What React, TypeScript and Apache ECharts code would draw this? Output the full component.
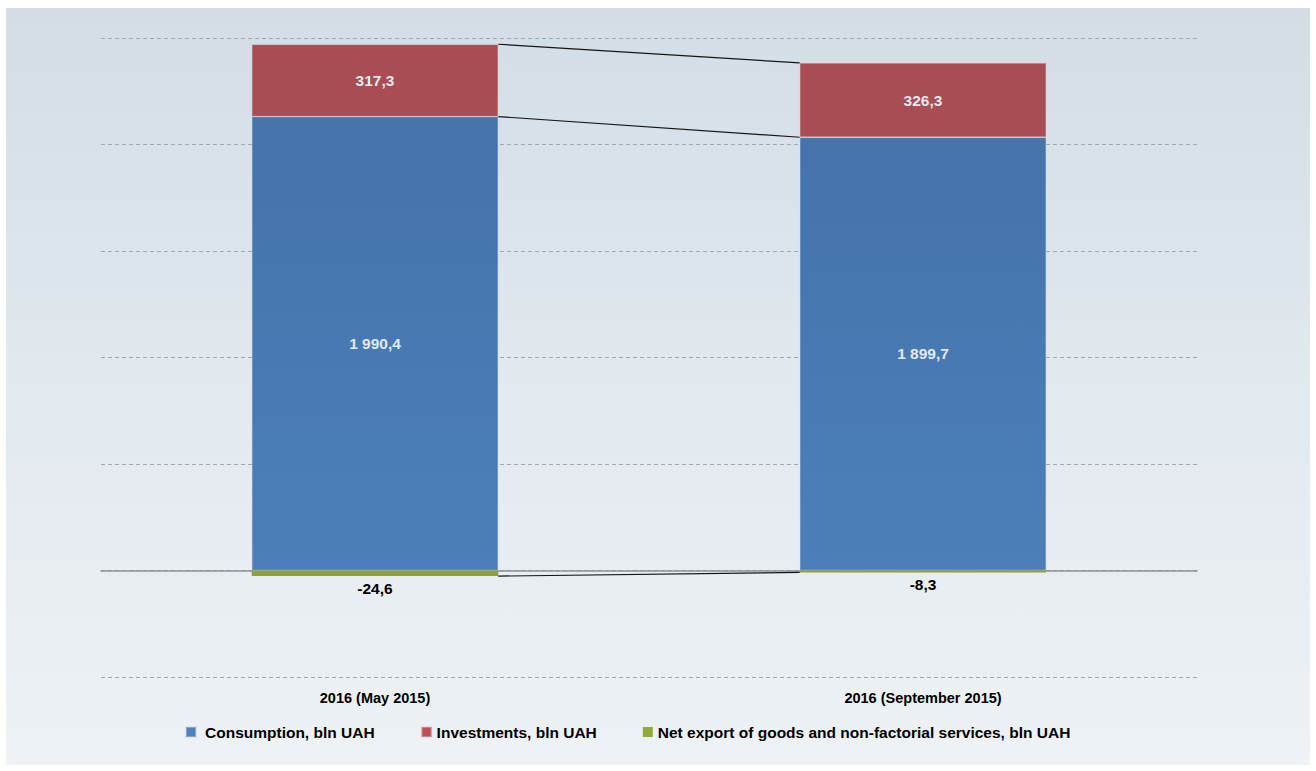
import React, { useEffect, useRef } from "react";
import * as echarts from "echarts";

// Forecast GDP components by forecast vintage
const categories = ["2016 (May 2015)", "2016 (September 2015)"];
const consumption = [1990.4, 1899.7];
const investments = [317.3, 326.3];
const netExport = [-24.6, -8.3];

const seriesNames = [
  "Consumption, bln UAH",
  "Investments, bln UAH",
  "Net export of goods and non-factorial services, bln UAH",
];

const FONT = '"Liberation Sans", Arial, sans-serif';

// "1990.4" -> "1 990,4"
const fmt = (v: number) => {
  const [i, d] = Math.abs(v).toFixed(1).split(".");
  return (v < 0 ? "-" : "") + i.replace(/\B(?=(\d{3})+(?!\d))/g, " ") + "," + d;
};

export default function App() {
  const ref = useRef<HTMLDivElement>(null);

  useEffect(() => {
    if (!ref.current) return;
    const chart = echarts.init(ref.current, null, { renderer: "svg" });

    // series lines joining the stack boundaries of the two columns
    const investTop = consumption.map((c, k) => c + investments[k]);
    const connectors = [
      [0, consumption[0], consumption[1]],
      [0, investTop[0], investTop[1]],
      [0, netExport[0], netExport[1]],
    ];

    const BAR = 0.45;

    const insideLabel = {
      show: true,
      position: "inside" as const,
      color: "#E3E8EF",
      fontFamily: FONT,
      fontWeight: "bold" as const,
      fontSize: 15.5,
      formatter: (p: any) => fmt(p.value),
    };

    chart.setOption({
      animation: false,
      grid: {
        left: 95,
        right: 113,
        top: 30,
        bottom: 88,
        containLabel: false,
        outerBoundsMode: "none",
      },
      legend: {
        left: 174,
        top: 711,
        itemWidth: 10,
        itemHeight: 10,
        itemGap: 46,
        icon: "rect",
        textStyle: {
          fontFamily: FONT,
          fontWeight: "bold",
          fontSize: 15.5,
          color: "#000",
          rich: { pad: { width: 4 } },
        },
        formatter: (name: string) =>
          name === seriesNames[0] ? "{pad|}" + name : name,
        data: [
          { name: seriesNames[0], itemStyle: { color: "#4F81BD" } },
          { name: seriesNames[1], itemStyle: { color: "#C0504D" } },
          { name: seriesNames[2], itemStyle: { color: "#93A93F" } },
        ],
      },
      xAxis: {
        type: "category",
        data: categories,
        axisLine: { onZero: true, lineStyle: { color: "#8E9297", width: 1.5 } },
        axisTick: { show: false },
        axisLabel: {
          fontFamily: FONT,
          fontWeight: "bold",
          fontSize: 14.5,
          color: "#000",
          margin: 13,
        },
      },
      yAxis: {
        type: "value",
        min: -467,
        max: 2335,
        interval: 467,
        axisLabel: { show: false },
        axisLine: { show: false },
        axisTick: { show: false },
        splitLine: {
          lineStyle: { color: "#A4A8AD", width: 1, type: [4, 3] },
        },
      },
      series: [
        {
          name: seriesNames[0],
          type: "bar",
          stack: "gdp",
          barWidth: BAR * 100 + "%",
          data: consumption,
          itemStyle: {
            color: new echarts.graphic.LinearGradient(0, 0, 0, 1, [
              { offset: 0, color: "#4573AA" },
              { offset: 1, color: "#4C7FB9" },
            ]),
            borderColor: "rgba(200,210,225,0.45)",
            borderWidth: 0.8,
          },
          label: insideLabel,
        },
        {
          name: seriesNames[1],
          type: "bar",
          stack: "gdp",
          data: investments,
          itemStyle: {
            color: "#A84D53",
            borderColor: "rgba(210,200,210,0.45)",
            borderWidth: 0.8,
          },
          label: insideLabel,
        },
        {
          name: seriesNames[2],
          type: "bar",
          stack: "gdp",
          data: netExport,
          itemStyle: { color: "#8EA03A" },
          label: {
            show: true,
            position: "bottom",
            distance: 4,
            color: "#000",
            fontFamily: FONT,
            fontWeight: "bold",
            fontSize: 15.5,
            formatter: (p: any) => fmt(p.value),
          },
        },
        {
          name: "connectors",
          type: "custom",
          data: connectors,
          encode: { x: 0, y: [1, 2] },
          z: 5,
          silent: true,
          renderItem: (_params: any, api: any) => {
            const p0 = api.coord([0, api.value(1)]);
            const p1 = api.coord([1, api.value(2)]);
            const half = (api.size([1, 0])[0] * BAR) / 2;
            return {
              type: "line",
              shape: {
                x1: p0[0] + half,
                y1: p0[1],
                x2: p1[0] - half,
                y2: p1[1],
              },
              style: { stroke: "#151515", lineWidth: 1.2 },
            };
          },
        },
      ],
    });

    return () => chart.dispose();
  }, []);

  return (
    <div
      style={{
        position: "fixed",
        left: 0,
        top: 0,
        width: 1316,
        height: 771,
        background: "#fff",
      }}
    >
      <div
        ref={ref}
        style={{
          position: "absolute",
          left: 6,
          top: 8,
          width: 1304,
          height: 757,
          background: "linear-gradient(to bottom, #D2DDE6 0%, #E2E9EF 50%, #EEF2F5 100%)",
        }}
      />
    </div>
  );
}
